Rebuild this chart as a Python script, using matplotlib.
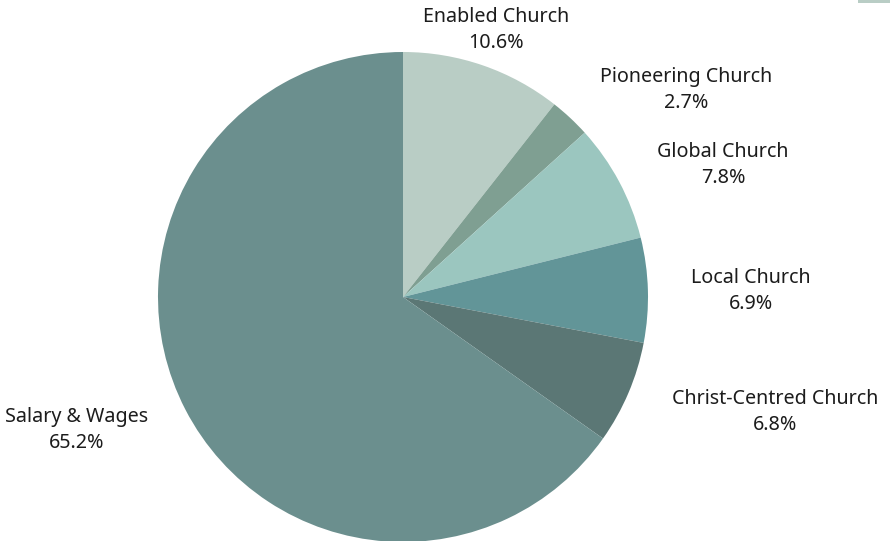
import matplotlib.pyplot as plt
from matplotlib.patches import Rectangle

# Data
categories = ['Enabled Church', 'Pioneering Church', 'Global Church',
              'Local Church', 'Christ-Centred Church', 'Salary & Wages']
shares = [10.6, 2.7, 7.8, 6.9, 6.8, 65.2]
colors = ['#b9cdc5', '#7f9f92', '#9bc6bf', '#629598', '#5b7775', '#6b8f8e']

# label block centres in figure pixels (x, y from top)
label_pos = [(496, 30), (686, 90), (723, 165), (751, 291), (775, 412), (77, 430)]

W, H = 890, 541
fig = plt.figure(figsize=(W / 100, H / 100), dpi=100)

# pie centre ~ (403, 297) px, radius ~245 px
cx, cy, r = 403, 297, 245
ax = fig.add_axes([(cx - r) / W, (H - cy - r) / H, 2 * r / W, 2 * r / H])
ax.pie(shares, colors=colors, startangle=90, counterclock=False,
       wedgeprops=dict(linewidth=0))
ax.set_xlim(-1, 1)
ax.set_ylim(-1, 1)
ax.set_aspect('equal')
ax.axis('off')

for name, val, (px, py) in zip(categories, shares, label_pos):
    fig.text(px / W, 1 - py / H, f'{name}\n{val}%', ha='center', va='center',
             fontsize=14.2, family='Noto Sans', color='#1c1c1c', linespacing=1.42)

# small decorative strip at top right
fig.add_artist(Rectangle((858 / W, 1 - 3 / H), 32 / W, 3 / H,
                         transform=fig.transFigure, color='#b9cdc5', lw=0))

fig.savefig('out.png', dpi=100)
